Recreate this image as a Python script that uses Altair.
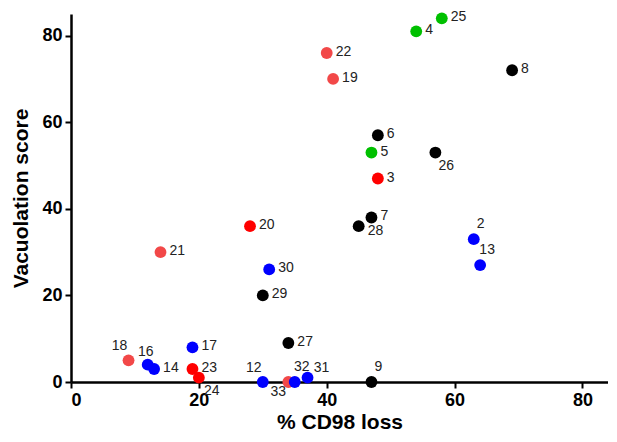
import altair as alt
import pandas as pd

# Sample ids, % CD98 loss, vacuolation score, colour group
ids = ["22", "19", "21", "18", "33",
       "3", "20", "23", "24",
       "25", "4", "5",
       "8", "6", "26", "7", "28", "29", "27", "9",
       "2", "13", "30", "17", "16", "14", "12", "32", "31"]
cd98_loss = [40, 41, 14, 9, 34,
             48, 28, 19, 20,
             58, 54, 47,
             69, 48, 57, 47, 45, 30, 34, 47,
             63, 64, 31, 19, 12, 13, 30, 35, 37]
vacuolation = [76, 70, 30, 5, 0,
               47, 36, 3, 1,
               84, 81, 53,
               72, 57, 53, 38, 36, 20, 9, 0,
               33, 27, 26, 8, 4, 3, 0, 0, 1]
group = ["light red"] * 5 + ["red"] * 4 + ["green"] * 3 + ["black"] * 8 + ["blue"] * 9

groups = ["black", "blue", "green", "red", "light red"]
colors = ["#000000", "#0000ff", "#00c000", "#ff0000", "#f24848"]

# label placement relative to the dot
place_of = {"26": "b26", "28": "br", "2": "a", "13": "a", "9": "a", "32": "a",
            "31": "ar", "12": "al", "18": "al", "16": "a16", "33": "bl", "24": "br24"}
placements = {
    "r": (9, -1, "left"),
    "br": (9, 5, "left"),
    "b26": (3, 13, "left"),
    "a": (7, -15, "center"),
    "ar": (14, -10, "center"),
    "al": (-9, -14, "center"),
    "a16": (-2, -13, "center"),
    "bl": (-10, 10, "center"),
    "br24": (13, 13, "center"),
}

df = pd.DataFrame({
    "id": ids,
    "x": cd98_loss,
    "y": vacuolation,
    "grp": group,
    "place": [place_of.get(i, "r") for i in ids],
})

xs = alt.Scale(domain=[0, 84], nice=False, zero=True)
ys = alt.Scale(domain=[0, 85], nice=False, zero=True)

base = alt.Chart(df)

points = base.mark_circle(size=140, opacity=1).encode(
    x=alt.X("x:Q", scale=xs, title="% CD98 loss",
            axis=alt.Axis(values=[0, 20, 40, 60, 80])),
    y=alt.Y("y:Q", scale=ys, title="Vacuolation score",
            axis=alt.Axis(values=[0, 20, 40, 60, 80])),
    color=alt.Color("grp:N", scale=alt.Scale(domain=groups, range=colors), legend=None),
)

layers = [points]
for key, (dx, dy, align) in placements.items():
    layers.append(
        base.transform_filter(alt.datum.place == key)
        .mark_text(dx=dx, dy=dy, align=align, baseline="middle",
                   font="Liberation Sans", fontSize=14, color="#222222")
        .encode(x=alt.X("x:Q", scale=xs), y=alt.Y("y:Q", scale=ys), text="id:N")
    )

chart = alt.layer(*layers).properties(
    width=537, height=368,
    autosize=alt.AutoSizeParams(type="none"),
    padding={"left": 63, "top": 6, "right": 0, "bottom": 52},
).configure_view(stroke=None).configure_axis(
    grid=False,
    domainColor="#000000",
    domainWidth=2.5,
    tickColor="#000000",
    tickWidth=2,
    tickSize=6,
    labelFont="Liberation Sans",
    labelFontWeight="bold",
    labelFontSize=18,
    labelColor="#000000",
    titleFont="Liberation Sans",
    titleFontWeight="bold",
    titleFontSize=21,
    titleColor="#000000",
).configure_axisX(
    labelPadding=3,
    titlePadding=2,
).configure_axisY(
    labelPadding=3,
    titlePadding=10,
)

chart.save("out.html", embed_options={"renderer": "svg", "actions": False})
